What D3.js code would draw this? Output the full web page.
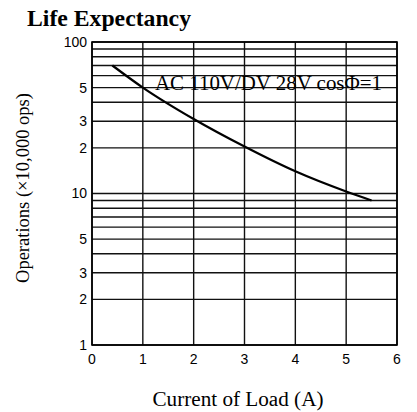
<!DOCTYPE html>
<html><head><meta charset="utf-8">
<script src="https://cdn.jsdelivr.net/npm/d3@7"></script>
<style>html,body{margin:0;padding:0;background:#fff;}</style>
</head><body>
<script>
const currents = [0.4, 1, 2, 3, 4, 5, 5.5];
const operations = [70, 50, 31, 20.4, 14, 10.3, 9];
const xTicks = [0, 1, 2, 3, 4, 5, 6];
const yGrid = [1,2,3,4,5,6,7,8,9,10,20,30,40,50,60,70,80,90,100];
const yLabels = [1,2,3,5,10,20,30,50,100];
const yLabelText = ["1","2","3","5","10","2","3","5","100"];
const title = "Life Expectancy";
const note = "AC 110V/DV 28V cosΦ=1";

const W = 417, H = 412;
const m = {left: 92, right: 20, top: 42, bottom: 67};
const svg = d3.select("body").append("svg").attr("width", W).attr("height", H);
const x = d3.scaleLinear().domain([0, 6]).range([m.left, W - m.right]);
const y = d3.scaleLog().domain([1, 100]).range([H - m.bottom, m.top]);

const g = svg.append("g");
g.selectAll(".hg").data(yGrid).join("line")
  .attr("x1", x(0)).attr("x2", x(6))
  .attr("y1", d => y(d)).attr("y2", d => y(d))
  .attr("stroke", "#111").attr("stroke-width", 1.4);
g.selectAll(".vg").data(xTicks).join("line")
  .attr("x1", d => x(d)).attr("x2", d => x(d))
  .attr("y1", y(1)).attr("y2", y(100))
  .attr("stroke", "#111").attr("stroke-width", 1.4);
g.append("rect").attr("x", x(0)).attr("y", y(100)).attr("width", x(6)-x(0)).attr("height", y(1)-y(100))
  .attr("fill", "none").attr("stroke", "#000").attr("stroke-width", 1.6);

svg.selectAll(".yl").data(yLabels).join("text")
  .attr("x", x(0) - 5).attr("y", d => y(d)).attr("dy", "0.35em")
  .attr("text-anchor", "end").attr("font-family", "Liberation Sans, Arial, sans-serif").attr("font-size", 14)
  .text((d, i) => yLabelText[i]);
svg.selectAll(".xl").data(xTicks).join("text")
  .attr("x", d => x(d)).attr("y", y(1) + 19)
  .attr("text-anchor", "middle").attr("font-family", "Liberation Sans, Arial, sans-serif").attr("font-size", 14)
  .text(d => d);

const line = d3.line().x((d, i) => x(currents[i])).y(d => y(d)).curve(d3.curveMonotoneX);
svg.append("path").datum(operations).attr("d", line)
  .attr("fill", "none").attr("stroke", "#000").attr("stroke-width", 2.2);

svg.append("text").attr("x", 155).attr("y", 90)
  .attr("font-family", "Liberation Serif, Times New Roman, serif").attr("font-size", 20.5)
  .attr("textLength", 227).attr("lengthAdjust", "spacingAndGlyphs").text(note);

svg.append("text").attr("x", 27).attr("y", 26)
  .attr("font-family", "Liberation Serif, Times New Roman, serif").attr("font-weight", "bold").attr("font-size", 22.5)
  .attr("textLength", 164).attr("lengthAdjust", "spacingAndGlyphs").text(title);

svg.append("text").attr("transform", "translate(29,188) rotate(-90)").attr("text-anchor", "middle")
  .attr("font-family", "Liberation Serif, Times New Roman, serif").attr("font-size", 18)
  .attr("textLength", 190).attr("lengthAdjust", "spacingAndGlyphs").text("Operations (×10,000 ops)");

svg.append("text").attr("x", 238).attr("y", 406).attr("text-anchor", "middle")
  .attr("font-family", "Liberation Serif, Times New Roman, serif").attr("font-size", 20.5)
  .attr("textLength", 171).attr("lengthAdjust", "spacingAndGlyphs").text("Current of Load (A)");
</script>
</body></html>
